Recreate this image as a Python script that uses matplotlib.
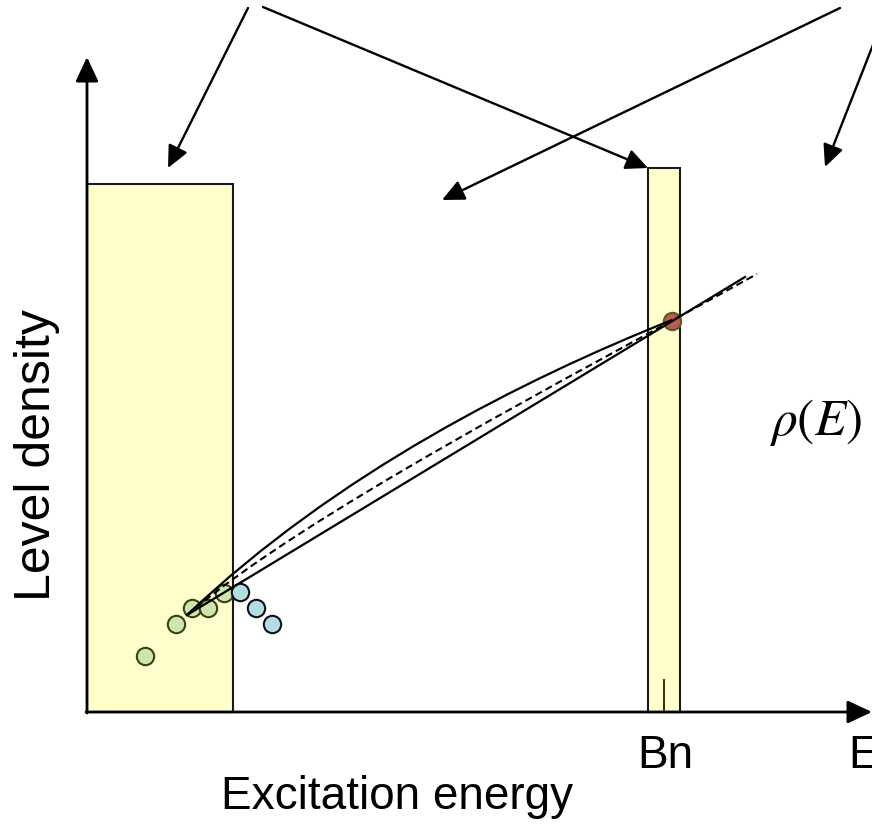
import matplotlib
matplotlib.use("Agg")
import matplotlib.pyplot as plt
from matplotlib.patches import Rectangle, PathPatch
from matplotlib.path import Path

plt.rcParams['font.family'] = ['Liberation Sans', 'DejaVu Sans']
plt.rcParams['mathtext.fontset'] = 'stix'

# Diagram coordinates: origin at the corner of the energy / level-density axes
# Known discrete levels (low-lying region), split by colour group
low_E_green = [58, 89, 105, 121, 137]
low_rho_green = [56, 88, 104, 104, 119]
low_E_blue = [153, 169, 185]
low_rho_blue = [120, 104, 88]
# Neutron resonance level density at the neutron binding energy
bn_E = [585]
bn_rho = [391]

# Regions where level counts are known
low_region = (0, 146, 528)      # x0, width, height
bn_region = (561, 32, 544)
bn_marker_E = 577
bn_marker_h = 32

# Model curves between the low-lying levels and the Bn point (Bezier control points)
curve_upper = [(100, 97), (250, 239), (435, 332), (585, 392)]
curve_dashed = [(100, 97), (220, 199), (480, 333), (670, 438)]
line_straight = [(100, 97), (658, 435)]

# Pointer arrows from the (off-frame) annotations
pointers = [
    ((161, 704), (81, 544)),
    ((176, 705), (561, 544)),
    ((753, 704), (355, 512)),
    ((793, 685), (738, 545)),
]

fig = plt.figure(figsize=(8.72, 8.26), dpi=100)
ax = fig.add_axes([0, 0, 1, 1])
ax.set_xlim(-87, 785)
ax.set_ylim(-114, 712)
ax.axis('off')

yellow = '#FFFFCC'
ax.add_patch(Rectangle((low_region[0], 0), low_region[1], low_region[2],
                       facecolor=yellow, edgecolor='#1a1a1a', lw=1.5, zorder=1))
ax.add_patch(Rectangle((bn_region[0], 0), bn_region[1], bn_region[2],
                       facecolor=yellow, edgecolor='#1a1a1a', lw=1.5, zorder=1))
ax.plot([bn_marker_E, bn_marker_E], [0, bn_marker_h], color='#333311', lw=1.4, zorder=2)

# axes with arrowheads
arrow_style = '-|>,head_length=0.75,head_width=0.35'
ax.annotate('', xy=(0, 655), xytext=(0, -1),
            arrowprops=dict(arrowstyle=arrow_style, mutation_scale=20, lw=2.0,
                            color='black', shrinkA=0, shrinkB=0), zorder=5)
ax.annotate('', xy=(785, 0), xytext=(-1, 0),
            arrowprops=dict(arrowstyle=arrow_style, mutation_scale=20, lw=2.0,
                            color='black', shrinkA=0, shrinkB=0), zorder=5)

# data points
ax.plot(low_E_green, low_rho_green, 'o', ms=12.5, mfc='#CCE5B0', mec='#3E3E10',
        mew=1.5, zorder=3)
ax.plot(low_E_blue, low_rho_blue, 'o', ms=12.5, mfc='#B4DDE2', mec='#111111',
        mew=1.5, zorder=3)
ax.plot(bn_E, bn_rho, 'o', ms=12.5, mfc='#B85A58', mec='#5A5A1E', mew=1.5, zorder=3)

# curves
def bezier(ctrl, **kw):
    codes = [Path.MOVETO, Path.CURVE4, Path.CURVE4, Path.CURVE4]
    ax.add_patch(PathPatch(Path(ctrl, codes), facecolor='none', **kw))

bezier(curve_upper, edgecolor='black', lw=1.6, zorder=4)
bezier(curve_dashed, edgecolor='black', lw=1.5, ls=(0, (3.5, 2)), zorder=4)
xs, ys = zip(*line_straight)
ax.plot(xs, ys, color='black', lw=1.6, zorder=4)

for (x0, y0), (x1, y1) in pointers:
    ax.annotate('', xy=(x1, y1), xytext=(x0, y0),
                arrowprops=dict(arrowstyle=arrow_style, mutation_scale=18, lw=1.7,
                                color='black', shrinkA=0, shrinkB=0),
                annotation_clip=False)

# labels
ax.text(-50, 257, 'Level density', rotation=90, ha='center', va='center', fontsize=36)
ax.text(310, -85, 'Excitation energy', ha='center', va='center', fontsize=33)
ax.text(578, -56, 'Bn', ha='center', va='baseline', fontsize=33)
ax.text(761, -56, 'E', ha='left', va='baseline', fontsize=33)
ax.text(682, 277, r'$\rho(E)$', ha='left', va='baseline', fontsize=37)

fig.savefig('out.png', dpi=100)
